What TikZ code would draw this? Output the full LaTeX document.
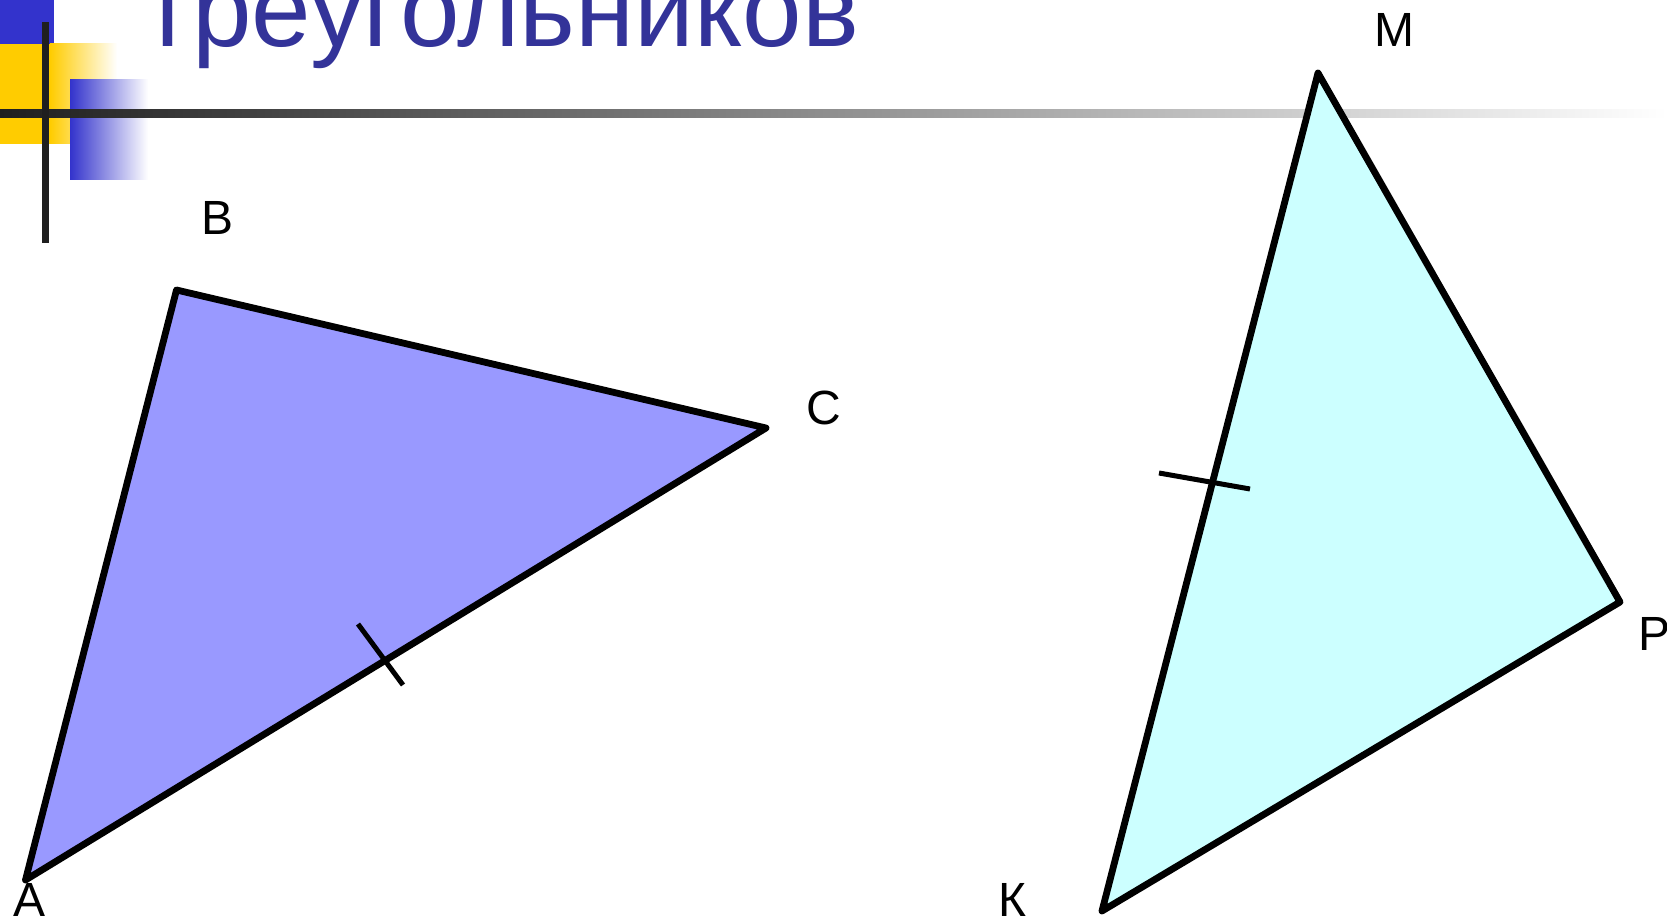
\documentclass[tikz,border=0pt]{standalone}
\usepackage{fontspec}
\setmainfont{Liberation Sans}
\definecolor{titleblue}{HTML}{333399}
\definecolor{squareblue}{HTML}{3333CC}
\definecolor{squareyellow}{HTML}{FFCC00}
\definecolor{barink}{HTML}{1F1F1F}
\definecolor{abcfill}{HTML}{9999FF}
\definecolor{kmpfill}{HTML}{CCFFFF}
\begin{document}
\begin{tikzpicture}[x=0.5pt,y=-0.5pt,
  vlabel/.style={font=\fontsize{24}{28}\selectfont,inner sep=0pt,anchor=base},
  side/.style={line width=3.4pt,line join=round},
  tickmark/.style={line width=2.5pt}]
\useasboundingbox (0,0) rectangle (1667,919);
\fill[squareblue] (0,0) rectangle (54,44);
\fill[squareyellow] (0,44) rectangle (50,144);
\shade[left color=squareyellow,right color=white] (50,44) rectangle (117,144);
\shade[left color=squareblue,right color=white] (70,80) rectangle (148,180);
\shade[left color=barink,right color=white] (0,110) rectangle (1667,118);
\fill[barink] (42,22) rectangle (49,243);
\node[inner sep=0pt,anchor=base west,text=titleblue,font=\fontsize{53.5}{64}\selectfont] (title) at (143,47) {треугольников};
\coordinate (A) at (25.5,880);
\coordinate (B) at (176.5,290);
\coordinate (C) at (766,428);
\coordinate (K) at (1102,911);
\coordinate (M) at (1318,73);
\coordinate (P) at (1620,602);
\filldraw[side,fill=abcfill] (A) -- (B) -- (C) -- cycle;
\filldraw[side,fill=kmpfill] (K) -- (M) -- (P) -- cycle;
\draw[tickmark] (358,624) -- (403,685);
\draw[tickmark] (1159,473) -- (1250,489);
\node[vlabel] (lblA) at (30,916) {А};
\node[vlabel] (lblB) at (218,235) {В};
\node[vlabel] (lblC) at (824,425) {С};
\node[vlabel] (lblK) at (1012,916) {К};
\node[vlabel] (lblM) at (1394,47) {М};
\node[vlabel,anchor=base west] (lblP) at (1638,651) {Р};
\end{tikzpicture}
\end{document}
